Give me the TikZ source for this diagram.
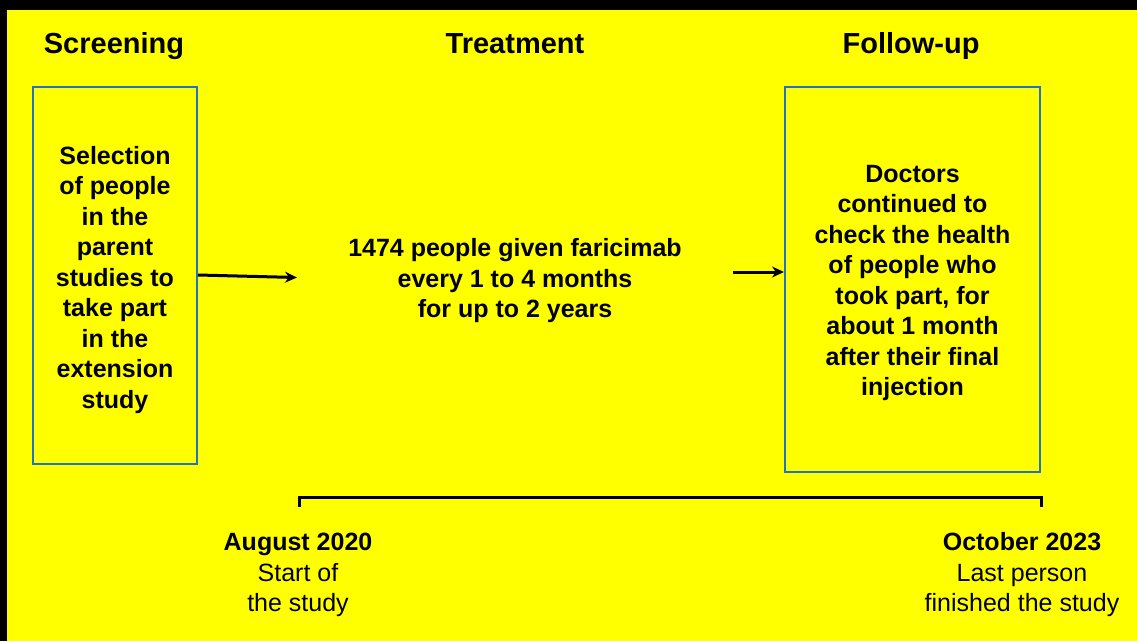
\documentclass[tikz,border=0pt]{standalone}
\usepackage{fontspec}
\setsansfont{Liberation Sans}
\usepackage{xcolor}
\definecolor{pagebg}{HTML}{FFFF00}
\definecolor{boxline}{HTML}{1F74C4}
\usetikzlibrary{arrows.meta, positioning, calc}

\begin{document}
\begin{tikzpicture}[
        x=1pt, y=-1pt,
        font=\sffamily,
        phase/.style={
            font=\sffamily\bfseries\fontsize{29}{34}\selectfont,
            anchor=base
        },
        stagebox/.style={
            rectangle,
            draw=boxline,
            line width=2pt,
            align=center,
            font=\sffamily\bfseries\fontsize{25}{30.5}\selectfont
        },
        bodytext/.style={
            align=center,
            font=\sffamily\bfseries\fontsize{25}{30.5}\selectfont
        },
        datetext/.style={
            align=center,
            font=\sffamily\fontsize{25}{30.5}\selectfont
        },
        arrow/.style={
            -{Stealth[length=12pt, width=11pt]},
            draw=black,
            line width=3pt
        }
    ]

    % Background and black edges
    \fill[pagebg] (0,0) rectangle (1137,641);
    \fill[black] (0,0) rectangle (1137,10);
    \fill[black] (0,0) rectangle (7,641);

    % Phase titles
    \node[phase] (screening) at (114,53) {Screening};
    \node[phase] (treatment) at (515,53) {Treatment};
    \node[phase] (followup) at (911,53) {Follow-up};

    % Stage 1: Screening
    \node[stagebox, minimum width=164pt, minimum height=377pt] (select) at (115,275.5) {};
    \node[bodytext] (selectText) at (115,280)
        {Selection\\of people\\in the\\parent\\studies to\\take part\\in the\\extension\\study};

    % Stage 2: Treatment
    \node[bodytext] (given) at (515,281)
        {1474 people given faricimab\\every 1 to 4 months\\for up to 2 years};

    % Stage 3: Follow-up
    \node[stagebox, minimum width=255pt, minimum height=385pt] (check) at (912.5,279.5) {};
    \node[bodytext] (checkText) at (912.5,283)
        {Doctors\\continued to\\check the health\\of people who\\took part, for\\about 1 month\\after their final\\injection};

    % Arrows
    \coordinate (intoTreat) at (297,277.5);
    \coordinate (outTreat) at (733,272);
    \draw[arrow] (select.east |- 0,275) -- (intoTreat);
    \draw[arrow] (outTreat) -- (check.west |- outTreat);

    % Timeline
    \coordinate (tlStart) at (299,507);
    \coordinate (tlEnd) at (1041,507);
    \draw[line width=3pt] (tlStart) -- ++(0,-10) -| (tlEnd);

    \node[datetext] (studyStart) at (298,575)
        {\textbf{August 2020}\\Start of\\the study};
    \node[datetext] (studyEnd) at (1022,575)
        {\textbf{October 2023}\\Last person\\finished the study};

\end{tikzpicture}
\end{document}
